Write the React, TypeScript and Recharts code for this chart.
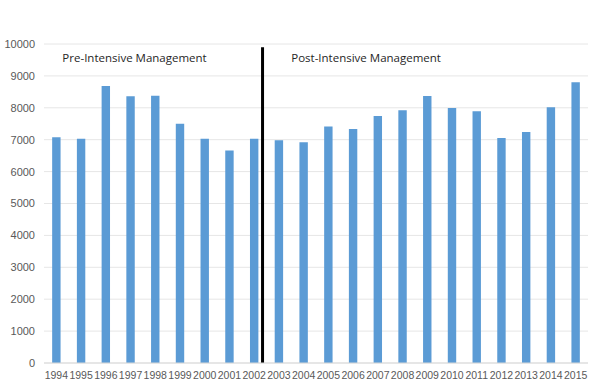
import { BarChart, Bar, XAxis, YAxis, CartesianGrid, ReferenceLine, ReferenceDot } from "recharts";

// years and annual values
const years = [
  "1994", "1995", "1996", "1997", "1998", "1999", "2000", "2001", "2002", "2003", "2004",
  "2005", "2006", "2007", "2008", "2009", "2010", "2011", "2012", "2013", "2014", "2015",
];
const values = [
  7075, 7030, 8680, 8360, 8380, 7500, 7030, 6660, 7030, 6980, 6920,
  7410, 7335, 7740, 7920, 8370, 7990, 7890, 7050, 7240, 8015, 8800,
];
const yTicks = [0, 1000, 2000, 3000, 4000, 5000, 6000, 7000, 8000, 9000, 10000];

const data = years.map((year, i) => ({ year, value: values[i] }));

const font = "'Open Sans', sans-serif";
const tickFont = "'Liberation Sans', Arial, sans-serif";

// divider drawn a little left of the band edge, as in the original
const Divider = (props: any) => (
  <line x1={props.x1 - 4} y1={props.y1} x2={props.x2 - 4} y2={props.y2} stroke="#000" strokeWidth={3} />
);

const App = () => {
  return (
    <div style={{ position: "absolute", left: 0, top: 0, width: 600, height: 385, background: "#fff" }}>
      <BarChart
        width={600}
        height={385}
        data={data}
        margin={{ top: 44, right: 12, left: 0, bottom: 0 }}
        barCategoryGap="67%"
      >
        <CartesianGrid vertical={false} stroke="#e6e6e6" />
        <XAxis
          dataKey="year"
          height={22}
          axisLine={{ stroke: "#d9d9d9" }}
          tickLine={false}
          interval={0}
          tick={{ fill: "#595959", fontSize: 10.5, fontFamily: tickFont }}
          tickMargin={3}
        />
        <YAxis
          width={44}
          domain={[0, 10000]}
          ticks={yTicks}
          axisLine={false}
          tickLine={false}
          tick={{ fill: "#595959", fontSize: 11, fontFamily: tickFont }}
          tickMargin={3}
        />
        <Bar dataKey="value" fill="#5b9bd5" isAnimationActive={false} />
        <ReferenceLine
          segment={[{ x: "2002", y: 0 }, { x: "2002", y: 9900 }]}
          position="end"
          shape={Divider}
        />
        <ReferenceDot
          x="1997"
          y={9550}
          r={0}
          label={{ value: "Pre-Intensive Management", position: "center", dx: 4, fill: "#262626", fontSize: 11.5, fontFamily: font }}
        />
        <ReferenceDot
          x="2006"
          y={9550}
          r={0}
          label={{ value: "Post-Intensive Management", position: "center", dx: 13, fill: "#262626", fontSize: 11.5, fontFamily: font }}
        />
      </BarChart>
    </div>
  );
};

export default App;
